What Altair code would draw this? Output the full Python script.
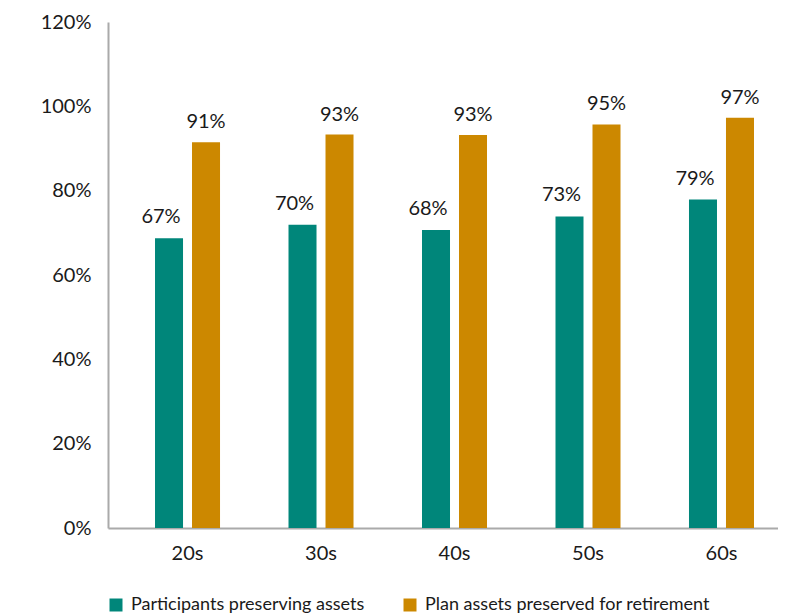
import altair as alt
import pandas as pd

ages = ["20s", "30s", "40s", "50s", "60s"]
series = ["Participants preserving assets", "Plan assets preserved for retirement"]
participants_bar = [68.7, 71.9, 70.7, 73.9, 77.9]
plan_bar = [91.5, 93.3, 93.2, 95.7, 97.3]
participants_label = [67, 70, 68, 73, 79]
plan_label = [91, 93, 93, 95, 97]
y_ticks = [0, 20, 40, 60, 80, 100, 120]
colors = ["#00867A", "#CC8800"]

rows = []
for i, a in enumerate(ages):
    rows.append({"age": a, "series": series[0], "value": participants_bar[i], "label": f"{participants_label[i]}%"})
    rows.append({"age": a, "series": series[1], "value": plan_bar[i], "label": f"{plan_label[i]}%"})
df = pd.DataFrame(rows)

FONT = "Lato"
TXT = "#1a1a1a"
AXC = "#aaaaaa"

base = alt.Chart(df).encode(
    x=alt.X("age:N", sort=ages, title=None,
            scale=alt.Scale(paddingInner=0.513, paddingOuter=0.266, align=0.662),
            axis=alt.Axis(domainColor=AXC, domainWidth=2, ticks=False, labelAngle=0,
                          labelFont=FONT, labelFontSize=20, labelColor=TXT, labelPadding=15)),
    xOffset=alt.XOffset("series:N", sort=series,
                        scale=alt.Scale(domain=series, paddingInner=0.243, paddingOuter=0)),
    y=alt.Y("value:Q", title=None,
            scale=alt.Scale(domain=[0, 120], nice=False),
            axis=alt.Axis(values=y_ticks, labelExpr="datum.value + '%'", grid=False,
                          domainColor=AXC, domainWidth=2, ticks=False,
                          labelFont=FONT, labelFontSize=20, labelColor=TXT, labelPadding=17)),
)

bars = base.mark_bar().encode(
    color=alt.Color("series:N", sort=series,
                    scale=alt.Scale(domain=series, range=colors),
                    legend=alt.Legend(orient="none", legendX=-1, legendY=574, direction="horizontal",
                                      title=None, symbolType="square", symbolSize=169,
                                      symbolStrokeWidth=0, symbolOpacity=1,
                                      labelFont=FONT, labelFontSize=18, labelColor=TXT,
                                      labelOffset=6, columnPadding=36, labelLimit=400))
)

text_p = base.mark_text(font=FONT, fontSize=20, color=TXT, baseline="alphabetic", dx=-8, dy=-15).encode(
    text="label:N").transform_filter(alt.datum.series == series[0])
text_g = base.mark_text(font=FONT, fontSize=20, color=TXT, baseline="alphabetic", dy=-14).encode(
    text="label:N").transform_filter(alt.datum.series == series[1])

chart = alt.layer(bars, text_p, text_g).properties(
    width=670, height=506,
    padding={"left": 100, "top": 14, "right": 0, "bottom": 85},
    autosize=alt.AutoSizeParams(type="none"),
).configure_view(stroke=None)

chart.save("out.html", embed_options={"renderer": "svg", "actions": False})
